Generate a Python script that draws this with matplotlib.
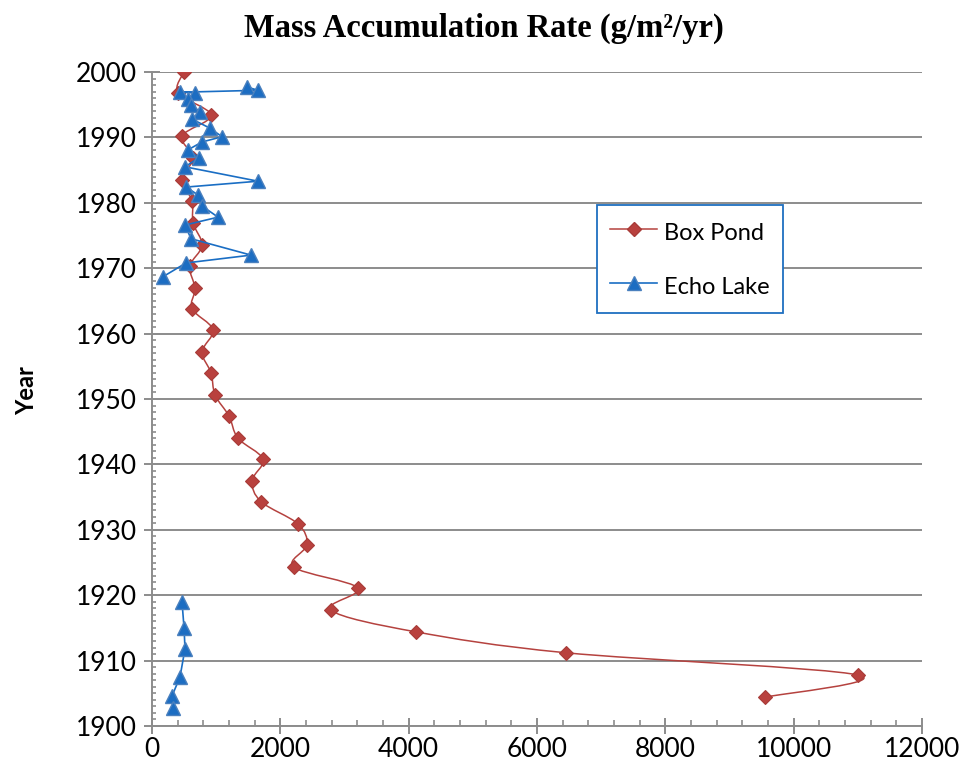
import numpy as np
import matplotlib
matplotlib.use('Agg')
import matplotlib.pyplot as plt
from matplotlib.path import Path
from matplotlib.patches import PathPatch
from matplotlib.ticker import MultipleLocator
from matplotlib.lines import Line2D

# Box Pond: mass accumulation rate (g/m2/yr) vs year
box_year = [2000.0, 1996.8, 1993.4, 1990.2, 1986.9, 1983.5, 1980.3, 1976.9, 1973.5, 1970.3,
            1966.9, 1963.8, 1960.6, 1957.2, 1954.0, 1950.6, 1947.4, 1944.0, 1940.8, 1937.5,
            1934.3, 1930.9, 1927.7, 1924.3, 1921.1, 1917.7, 1914.4, 1911.2, 1907.8, 1904.4]
box_mar = [499, 405, 920, 467, 640, 467, 623, 640, 780, 590,
           670, 623, 950, 780, 920, 983, 1200, 1340, 1730, 1560,
           1700, 2275, 2415, 2210, 3210, 2790, 4110, 6450, 11000, 9550]

# Echo Lake (gap between 1968 and 1919 in the record)
echo_year = [1997.7, 1997.2, 1996.9, 1996.8, 1995.9, 1995.0, 1993.9, 1992.8, 1991.4, 1990.1,
             1989.3, 1988.1, 1986.9, 1985.5, 1983.3, 1982.4, 1981.2, 1979.5, 1977.8, 1976.6,
             1974.5, 1972.0, 1970.8, 1968.7, np.nan,
             1919.0, 1915.0, 1911.8, 1907.5, 1904.6, 1902.8]
echo_mar = [1480, 1652, 436, 670, 561, 608, 748, 623, 904, 1091,
            780, 561, 732, 514, 1652, 530, 717, 780, 1029, 514,
            608, 1543, 530, 171, np.nan,
            467, 499, 514, 436, 312, 327]

BOX_COLOR = '#B5423F'
ECHO_COLOR = '#1A6EC4'
GRID_COLOR = '#8C8C8C'


def smooth_path(xs, ys):
    # excel-style smoothed line (catmull-rom as cubic bezier)
    pts = np.column_stack([xs, ys]).astype(float)
    n = len(pts)
    verts = [pts[0]]
    codes = [Path.MOVETO]
    for i in range(n - 1):
        p0 = pts[i - 1] if i > 0 else pts[i]
        p1 = pts[i]
        p2 = pts[i + 1]
        p3 = pts[i + 2] if i + 2 < n else pts[i + 1]
        c1 = p1 + (p2 - p0) / 6.0
        c2 = p2 - (p3 - p1) / 6.0
        verts += [c1, c2, p2]
        codes += [Path.CURVE4] * 3
    return Path(verts, codes)


plt.rcParams['font.family'] = ['Lato', 'DejaVu Sans']

fig = plt.figure(figsize=(9.61, 7.74), dpi=100)
ax = fig.add_axes([0.1582, 0.062, 0.8012, 0.845])

ax.add_patch(PathPatch(smooth_path(box_mar, box_year), facecolor='none',
                       edgecolor=BOX_COLOR, lw=1.1, zorder=3))
ax.plot(box_mar, box_year, ls='none', marker='D', ms=7.5, mfc='#B9413E',
        mec='#A83B38', mew=0.8, zorder=4)

ax.plot(echo_mar, echo_year, color=ECHO_COLOR, lw=1.2, marker='^', ms=10,
        mfc='#1C6DC2', mec='#4A80BE', mew=1.0, zorder=5)

ax.set_xlim(0, 12000)
ax.set_ylim(1900, 2000)
ax.xaxis.set_major_locator(MultipleLocator(2000))
ax.xaxis.set_minor_locator(MultipleLocator(400))
ax.yaxis.set_major_locator(MultipleLocator(10))
ax.yaxis.set_minor_locator(MultipleLocator(1))

ax.grid(axis='y', which='major', color=GRID_COLOR, lw=1.4)
ax.set_axisbelow(True)
for side in ['top', 'right']:
    ax.spines[side].set_visible(False)
for side in ['left', 'bottom']:
    ax.spines[side].set_color(GRID_COLOR)
    ax.spines[side].set_linewidth(1.4)

ax.tick_params(axis='both', which='major', direction='inout', length=11,
               width=1.4, color=GRID_COLOR, labelsize=19, labelcolor='black')
ax.tick_params(axis='y', which='minor', direction='in', length=3,
               width=1.2, color=GRID_COLOR)
ax.tick_params(axis='x', which='minor', direction='in', length=4.5,
               width=1.2, color=GRID_COLOR)
ax.tick_params(axis='y', which='major', pad=5.5)
ax.tick_params(axis='x', which='major', pad=2.5)

fig.text(0.504, 0.963, 'Mass Accumulation Rate (g/m\u00b2/yr)', ha='center', va='center',
         fontsize=23.5, fontweight='bold', family='Liberation Serif')
fig.text(0.028, 0.496, 'Year', rotation=90, ha='center', va='center',
         fontsize=17, fontweight='bold')

handles = [
    Line2D([], [], color=BOX_COLOR, lw=1.1, marker='D', ms=7.5, mfc='#B9413E', mec='#A83B38'),
    Line2D([], [], color=ECHO_COLOR, lw=1.2, marker='^', ms=10, mfc='#1C6DC2', mec='#4A80BE'),
]
leg = ax.legend(handles, ['Box Pond', 'Echo Lake'], loc='upper left',
                bbox_to_anchor=(0.578, 0.797), borderaxespad=0, fancybox=False,
                fontsize=17, handlelength=2.0, handletextpad=0.3, labelspacing=1.1,
                handleheight=1.45, borderpad=0.55, framealpha=1)
leg.get_frame().set_edgecolor('#1F6FC0')
leg.get_frame().set_linewidth(1.3)

fig.savefig('out.png', dpi=100)
